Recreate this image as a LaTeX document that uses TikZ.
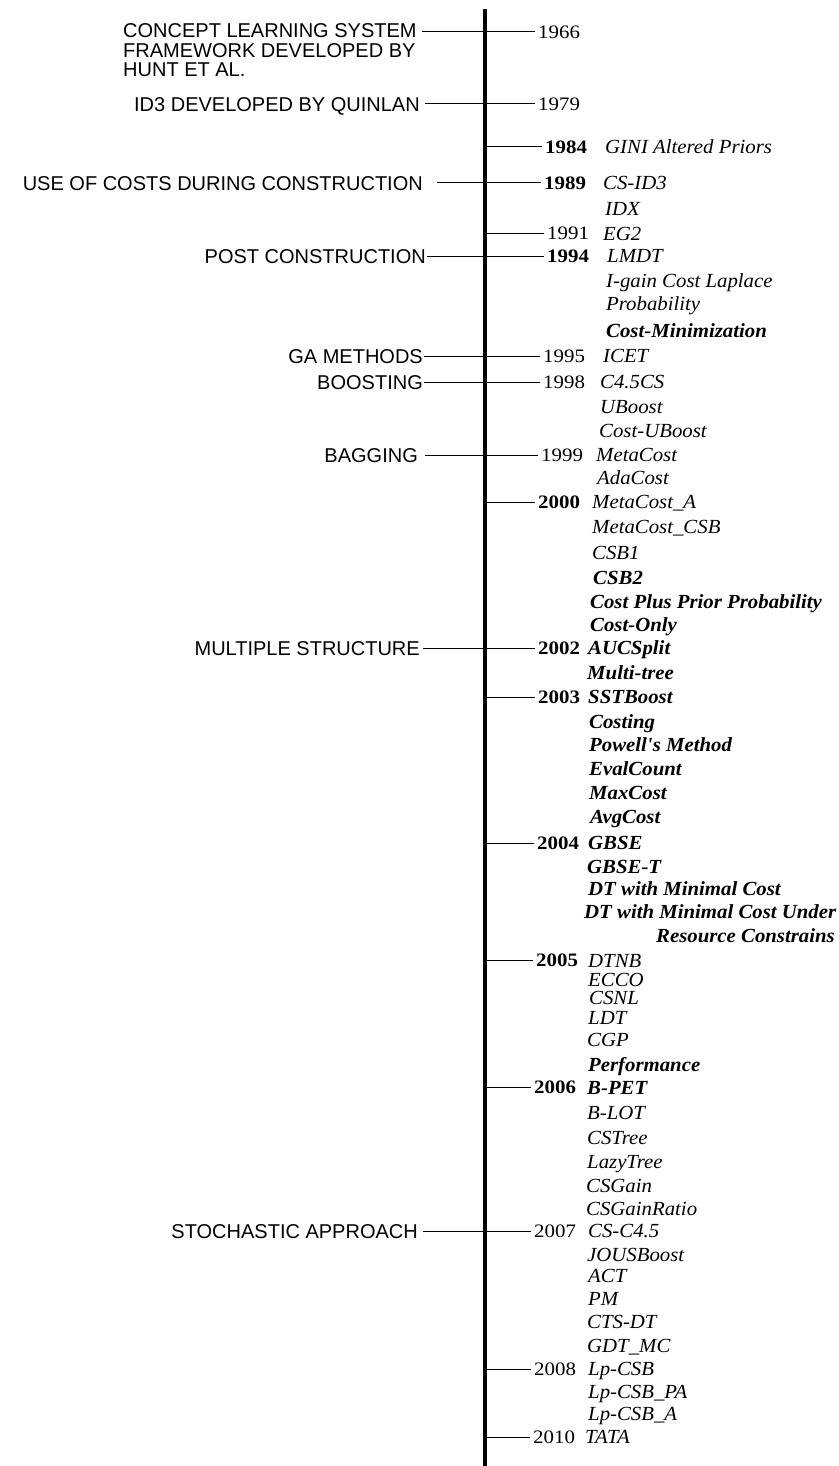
\documentclass[tikz,border=0pt]{standalone}
\usepackage{fontspec}
\setmainfont{Liberation Serif}
\newfontfamily\capsfont{Liberation Sans}
\newfontfamily\datefont[FakeStretch=1.1]{Liberation Serif}
\newfontfamily\methfont[FakeStretch=1.04]{Liberation Serif}
\usetikzlibrary{calc}

\tikzset{
  erafont/.style={font=\capsfont\fontsize{20}{19.5}\selectfont, inner sep=0pt},
  era/.style={erafont, anchor=east, text height=14.3pt, text depth=0pt},
  yr/.style={font=\datefont\fontsize{19}{21}\selectfont, inner sep=0pt, anchor=west, text height=12.8pt, text depth=0pt},
  yrb/.style={yr, font=\datefont\bfseries\fontsize{19}{21}\selectfont},
  meth/.style={font=\methfont\itshape\fontsize{20}{22}\selectfont, inner sep=0pt, anchor=base west, yshift=-6.6pt},
  methb/.style={meth, font=\methfont\bfseries\itshape\fontsize{20}{22}\selectfont},
  link/.style={line width=1pt, shorten >=3pt},
}

\begin{document}
\begin{tikzpicture}[x=1pt, y=-1pt]
    \useasboundingbox (0,0) rectangle (838,1466);
    % time axis
    \coordinate (top) at (485,9);
    \coordinate (bot) at (485,1466);

    % left labels
    \node[erafont, anchor=north west, align=left] (concept) at (123,23.5) {CONCEPT LEARNING SYSTEM\\FRAMEWORK DEVELOPED BY\\HUNT ET AL.};
    \node[era] (id3) at (420,104) {ID3 DEVELOPED BY QUINLAN};
    \node[era] (costs) at (423,183) {USE OF COSTS DURING CONSTRUCTION};
    \node[era] (post) at (426,256) {POST CONSTRUCTION};
    \node[era] (ga) at (423,356) {GA METHODS};
    \node[era] (boost) at (423,382) {BOOSTING};
    \node[era] (bag) at (418,455) {BAGGING};
    \node[era] (multi) at (420,648) {MULTIPLE STRUCTURE};
    \node[era] (stoch) at (418,1231) {STOCHASTIC APPROACH};

    % years
    \node[yr] (y1966) at (538,32) {1966};
    \node[yr] (y1979) at (538,104) {1979};
    \node[yrb] (y1984) at (545,147) {1984};
    \node[yrb] (y1989) at (544,183) {1989};
    \node[yr] (y1991) at (547,233) {1991};
    \node[yrb] (y1994) at (547,256) {1994};
    \node[yr] (y1995) at (543,356) {1995};
    \node[yr] (y1998) at (543,382) {1998};
    \node[yr] (y1999) at (541,455) {1999};
    \node[yrb] (y2000) at (538,502) {2000};
    \node[yrb] (y2002) at (538,648) {2002};
    \node[yrb] (y2003) at (538,697) {2003};
    \node[yrb] (y2004) at (537,843) {2004};
    \node[yrb] (y2005) at (536,960) {2005};
    \node[yrb] (y2006) at (534,1087) {2006};
    \node[yr] (y2007) at (534,1231) {2007};
    \node[yr] (y2008) at (534,1369) {2008};
    \node[yr] (y2010) at (533,1437) {2010};

    % methods
    \node[meth] (m1) at (605,147) {GINI Altered Priors};
    \node[meth] (m2) at (603,183) {CS-ID3};
    \node[meth] (m3) at (605,209) {IDX};
    \node[meth] (m4) at (603,234) {EG2};
    \node[meth] (m5) at (607,256) {LMDT};
    \node[meth] (m6) at (606,281) {I-gain Cost Laplace};
    \node[meth] (m7) at (606,304) {Probability};
    \node[methb] (m8) at (606,331) {Cost-Minimization};
    \node[meth] (m9) at (603,356) {ICET};
    \node[meth] (m10) at (600,382) {C4.5CS};
    \node[meth] (m11) at (600,407) {UBoost};
    \node[meth] (m12) at (599,431) {Cost-UBoost};
    \node[meth] (m13) at (596,455) {MetaCost};
    \node[meth] (m14) at (597,478) {AdaCost};
    \node[meth] (m15) at (592,502) {MetaCost\_A};
    \node[meth] (m16) at (592,527) {MetaCost\_CSB};
    \node[meth] (m17) at (592,553) {CSB1};
    \node[methb] (m18) at (593,578) {CSB2};
    \node[methb] (m19) at (590,602) {Cost Plus Prior Probability};
    \node[methb] (m20) at (590,625) {Cost-Only};
    \node[methb] (m21) at (588,648) {AUCSplit};
    \node[methb] (m22) at (587,673) {Multi-tree};
    \node[methb] (m23) at (588,697) {SSTBoost};
    \node[methb] (m24) at (589,722) {Costing};
    \node[methb] (m25) at (589,745) {Powell's Method};
    \node[methb] (m26) at (589,769) {EvalCount};
    \node[methb] (m27) at (589,793) {MaxCost};
    \node[methb] (m28) at (590,817) {AvgCost};
    \node[methb] (m29) at (588,843) {GBSE};
    \node[methb] (m30) at (587,867) {GBSE-T};
    \node[methb] (m31) at (588,889) {DT with Minimal Cost};
    \node[methb] (m32) at (584,912) {DT with Minimal Cost Under};
    \node[methb] (m33) at (656,936) {Resource Constrains};
    \node[meth] (m34) at (588,961) {DTNB};
    \node[meth] (m35) at (588,980) {ECCO};
    \node[meth] (m36) at (589,998) {CSNL};
    \node[meth] (m37) at (588,1018) {LDT};
    \node[meth] (m38) at (587,1040) {CGP};
    \node[methb] (m39) at (588,1065) {Performance};
    \node[methb] (m40) at (587,1088) {B-PET};
    \node[meth] (m41) at (587,1113) {B-LOT};
    \node[meth] (m42) at (587,1138) {CSTree};
    \node[meth] (m43) at (587,1162) {LazyTree};
    \node[meth] (m44) at (586,1186) {CSGain};
    \node[meth] (m45) at (586,1209) {CSGainRatio};
    \node[meth] (m46) at (588,1231) {CS-C4.5};
    \node[meth] (m47) at (587,1255) {JOUSBoost};
    \node[meth] (m48) at (588,1276) {ACT};
    \node[meth] (m49) at (588,1299) {PM};
    \node[meth] (m50) at (587,1322) {CTS-DT};
    \node[meth] (m51) at (587,1346) {GDT\_MC};
    \node[meth] (m52) at (588,1369) {Lp-CSB};
    \node[meth] (m53) at (588,1392) {Lp-CSB\_PA};
    \node[meth] (m54) at (588,1414) {Lp-CSB\_A};
    \node[meth] (m55) at (585,1437) {TATA};

    % links through the axis
    \draw[link, shorten <=5pt] (concept.north east |- y1966.west) -- (y1966.west);
    \draw[link, shorten <=5pt] (id3.east) -- (y1979.west);
    \draw[link, shorten <=14pt] (costs.east) -- (y1989.west);
    \draw[link, shorten <=1pt] (post.east) -- (y1994.west);
    \draw[link, shorten <=1pt] (ga.east) -- (y1995.west);
    \draw[link, shorten <=1pt] (boost.east) -- (y1998.west);
    \draw[link, shorten <=7pt] (bag.east) -- (y1999.west);
    \draw[link, shorten <=3pt] (multi.east) -- (y2002.west);
    \draw[link, shorten <=5pt] (stoch.east) -- (y2007.west);
    % ticks without a label
    \draw[link] (top |- y1984.west) -- (y1984.west);
    \draw[link] (top |- y1991.west) -- (y1991.west);
    \draw[link] (top |- y2000.west) -- (y2000.west);
    \draw[link] (top |- y2003.west) -- (y2003.west);
    \draw[link] (top |- y2004.west) -- (y2004.west);
    \draw[link] (top |- y2005.west) -- (y2005.west);
    \draw[link] (top |- y2006.west) -- (y2006.west);
    \draw[link] (top |- y2008.west) -- (y2008.west);
    \draw[link] (top |- y2010.west) -- (y2010.west);

    \draw[line width=4.5pt] (top) -- (bot);
\end{tikzpicture}
\end{document}
